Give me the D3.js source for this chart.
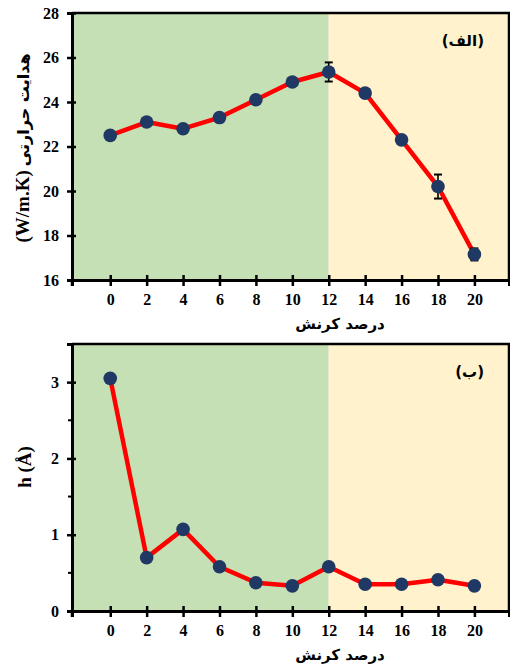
<!DOCTYPE html>
<html>
<head>
<meta charset="utf-8">
<script src="https://cdn.jsdelivr.net/npm/d3@7"></script>
<style>
  html, body { margin: 0; padding: 0; background: #fff; }
  svg { display: block; }
  .num { font-family: "Liberation Serif", "Times New Roman", serif; font-weight: bold; fill: #000; }
  .fa { font-family: "DejaVu Sans", "Noto Sans", sans-serif; font-weight: bold; fill: #000; }
</style>
</head>
<body>
<svg id="chart" width="510" height="666"></svg>
<script>
// Strain percentage (x) shared by both panels
const strain = [0, 2, 4, 6, 8, 10, 12, 14, 16, 18, 20];
const xTickLabels = ["0", "2", "4", "6", "8", "10", "12", "14", "16", "18", "20"];

// Panel (a): thermal conductivity, W/m.K, with error bars
const conductivity = [22.5, 23.1, 22.8, 23.3, 24.1, 24.9, 25.35, 24.4, 22.3, 20.2, 17.15];
const conductivityErr = [0, 0, 0, 0, 0, 0, 0.43, 0.15, 0, 0.54, 0.27];
const conductivityTicks = [16, 18, 20, 22, 24, 26, 28];

// Panel (b): buckling height h, Angstrom
const bucklingHeight = [3.05, 0.70, 1.07, 0.58, 0.37, 0.33, 0.58, 0.35, 0.35, 0.41, 0.33];
const heightTicks = [0, 1, 2, 3];
const heightMinorTicks = [0.5, 1.5, 2.5];

// Shaded regimes along the strain axis
const regions = [
  { from: -2.1, to: 12, color: "#C5E0B4" },
  { from: 12, to: 21.9, color: "#FFF2CC" }
];

const svg = d3.select("#chart");
const left = 72, right = 509;
const x = d3.scaleLinear().domain([-2.1, 21.9]).range([left, right]);

function panel(opts) {
  const { top, bottom, yDomain, yTicks, minor, values, errs, label, yTitle, labelY } = opts;
  const y = d3.scaleLinear().domain(yDomain).range([bottom, top]);
  const g = svg.append("g");

  // background regimes
  g.selectAll("rect.region").data(regions).join("rect")
    .attr("x", d => x(d.from)).attr("width", d => x(d.to) - x(d.from))
    .attr("y", top).attr("height", bottom - top)
    .attr("fill", d => d.color);

  // frame (top and right)
  g.append("path")
    .attr("d", `M${left},${top}H${right}V${bottom}`)
    .attr("fill", "none").attr("stroke", "#000").attr("stroke-width", 2.5);

  // x axis
  const xa = g.append("g").attr("transform", `translate(0,${bottom})`)
    .call(d3.axisBottom(x).tickValues(strain).tickFormat((d, i) => xTickLabels[i]).tickSize(6).tickPadding(8));
  xa.attr("font-family", null).attr("font-size", null);
  xa.select(".domain").attr("stroke-width", 3);
  xa.selectAll(".tick line").attr("y1", -5).attr("y2", 6).attr("stroke-width", 2.5);
  xa.selectAll(".tick text").attr("class", "num").attr("font-size", 16);
  xa.append("line").attr("x1", left).attr("x2", left).attr("y1", 0).attr("y2", 6).attr("stroke", "#000").attr("stroke-width", 2.5);

  // y axis
  const ya = g.append("g").attr("transform", `translate(${left},0)`)
    .call(d3.axisLeft(y).tickValues(yTicks).tickFormat(d3.format("d")).tickSize(5).tickPadding(8));
  ya.attr("font-family", null).attr("font-size", null);
  ya.select(".domain").attr("stroke-width", 3);
  ya.selectAll(".tick line").attr("x1", 4).attr("x2", -5).attr("stroke-width", 2.5);
  ya.selectAll(".tick text").attr("class", "num").attr("font-size", 16);
  if (minor) {
    ya.selectAll("line.minor").data(minor).join("line")
      .attr("x1", -4).attr("x2", 2).attr("y1", d => y(d)).attr("y2", d => y(d))
      .attr("stroke", "#000").attr("stroke-width", 2);
  }

  // line
  const pts = strain.map((s, i) => [s, values[i]]);
  g.append("path").datum(pts)
    .attr("d", d3.line().x(d => x(d[0])).y(d => y(d[1])))
    .attr("fill", "none").attr("stroke", "#FF0000").attr("stroke-width", 4.5)
    .attr("stroke-linejoin", "round");

  // error bars
  if (errs) {
    const eb = pts.map((p, i) => ({ s: p[0], v: p[1], e: errs[i] })).filter(d => d.e > 0);
    const ge = g.append("g").attr("stroke", "#000").attr("stroke-width", 1.6);
    ge.selectAll("line.v").data(eb).join("line")
      .attr("x1", d => x(d.s)).attr("x2", d => x(d.s))
      .attr("y1", d => y(d.v - d.e)).attr("y2", d => y(d.v + d.e));
    ge.selectAll("line.t").data(eb).join("line")
      .attr("x1", d => x(d.s) - 4).attr("x2", d => x(d.s) + 4)
      .attr("y1", d => y(d.v + d.e)).attr("y2", d => y(d.v + d.e)).attr("stroke-width", 2);
    ge.selectAll("line.b").data(eb).join("line")
      .attr("x1", d => x(d.s) - 4).attr("x2", d => x(d.s) + 4)
      .attr("y1", d => y(d.v - d.e)).attr("y2", d => y(d.v - d.e)).attr("stroke-width", 2);
  }

  // markers
  g.selectAll("circle").data(pts).join("circle")
    .attr("cx", d => x(d[0])).attr("cy", d => y(d[1])).attr("r", 6.8)
    .attr("fill", "#203864");

  // panel tag
  g.append("text").attr("class", "fa").attr("x", 484).attr("y", labelY)
    .attr("text-anchor", "end").attr("font-size", 15).text(label);

  // x title
  g.append("text").attr("class", "fa").attr("x", 340).attr("y", bottom + 49)
    .attr("text-anchor", "middle").attr("font-size", 15).text("درصد کرنش");

  // y title
  g.append("text").attr("class", "num").attr("transform", `translate(${yTitle.x},${yTitle.y}) rotate(-90)`)
    .attr("text-anchor", "middle").attr("font-size", 19).html(yTitle.html);
}

panel({
  top: 13, bottom: 280, yDomain: [16, 28], yTicks: conductivityTicks,
  values: conductivity, errs: conductivityErr, label: "(الف)", labelY: 46,
  yTitle: { x: 29, y: 148, html: '<tspan>(W/m.K)</tspan><tspan class="fa" font-size="16" dx="4">هدایت حرارتی</tspan>' }
});

panel({
  top: 344, bottom: 611, yDomain: [0, 3.5], yTicks: heightTicks, minor: heightMinorTicks,
  values: bucklingHeight, label: "(ب)", labelY: 377,
  yTitle: { x: 31, y: 467, html: 'h (Å)' }
});
</script>
</body>
</html>
